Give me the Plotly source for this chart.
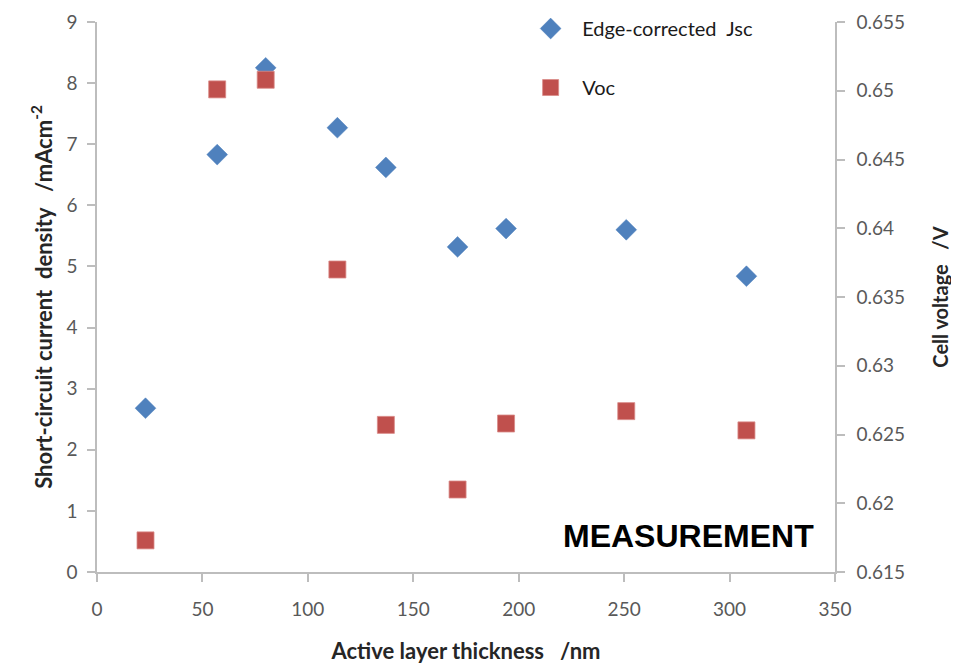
import plotly.graph_objects as go

thickness = [23, 57, 80, 114, 137, 171, 194, 251, 308]
jsc = [2.68, 6.83, 8.25, 7.27, 6.62, 5.32, 5.62, 5.60, 4.84]
voc = [0.6173, 0.6501, 0.6508, 0.6370, 0.6257, 0.6210, 0.6258, 0.6267, 0.6253]

x_ticks = [0, 50, 100, 150, 200, 250, 300, 350]
y1_ticks = [0, 1, 2, 3, 4, 5, 6, 7, 8, 9]
y2_ticks = [0.615, 0.62, 0.625, 0.63, 0.635, 0.64, 0.645, 0.65, 0.655]
y2_labels = ["0.615", "0.62", "0.625", "0.63", "0.635", "0.64", "0.645", "0.65", "0.655"]

FONT = "Lato"
AX = "#BDBDBD"
TK = "#595959"
TT = "#262626"
NB = "\u00a0"

fig = go.Figure()
fig.add_trace(go.Scatter(
    x=thickness, y=jsc, mode="markers", name="Edge-corrected" + NB + NB + "Jsc",
    legendgroup="a",
    marker=dict(symbol="diamond", size=16, color="#4F81BD",
                line=dict(width=0.5, color="#4F81BD")),
    yaxis="y"))
fig.add_trace(go.Scatter(
    x=thickness, y=voc, mode="markers", name="Voc",
    legendgroup="b",
    marker=dict(symbol="square", size=17, color="#C0504D",
                line=dict(width=0.8, color="#D98A88")),
    yaxis="y2"))

axis_common = dict(showgrid=False, zeroline=False, showline=True, linecolor=AX,
                   linewidth=1.5, ticks="outside", ticklen=8, tickcolor=AX,
                   tickwidth=1.5, automargin=False,
                   tickfont=dict(family=FONT, size=19, color=TK))

fig.update_layout(
    width=959, height=665,
    margin=dict(l=89, r=132, t=14, b=101, autoexpand=False),
    paper_bgcolor="white", plot_bgcolor="white",
    font=dict(family=FONT),
    xaxis=dict(range=[0, 350], tickvals=x_ticks, ticklabelstandoff=11,
               title=dict(text="<b>Active layer thickness" + NB * 3 + "/nm</b>",
                          font=dict(family=FONT, size=22, color=TT), standoff=25),
               **axis_common),
    yaxis=dict(range=[0, 9], tickvals=y1_ticks, ticklabelstandoff=6,
               title=dict(text="<b>Short-circuit current" + NB * 2 + "density" + NB * 3 + "/mAcm<sup>-2</sup></b>",
                          font=dict(family=FONT, size=22, color=TT), standoff=8),
               **axis_common),
    yaxis2=dict(range=[0.615, 0.655], tickvals=y2_ticks, ticktext=y2_labels,
                overlaying="y", side="right", ticklabelstandoff=8,
                title=dict(text="<b>Cell voltage" + NB * 3 + "/V</b>",
                           font=dict(family=FONT, size=20, color=TT), standoff=30),
                **axis_common),
    legend=dict(x=0.572, y=1.0236, xanchor="left", yanchor="top",
                font=dict(family=FONT, size=20, color="#1a1a1a"),
                tracegroupgap=30, itemwidth=53, bgcolor="rgba(0,0,0,0)"),
    showlegend=True,
)

fig.add_annotation(text="<b>MEASUREMENT</b>", xref="paper", yref="paper",
                   x=0.974, y=0.065, xanchor="right", yanchor="middle", showarrow=False,
                   font=dict(family="Liberation Sans", size=32, color="black"))

fig.write_html("out.html")
